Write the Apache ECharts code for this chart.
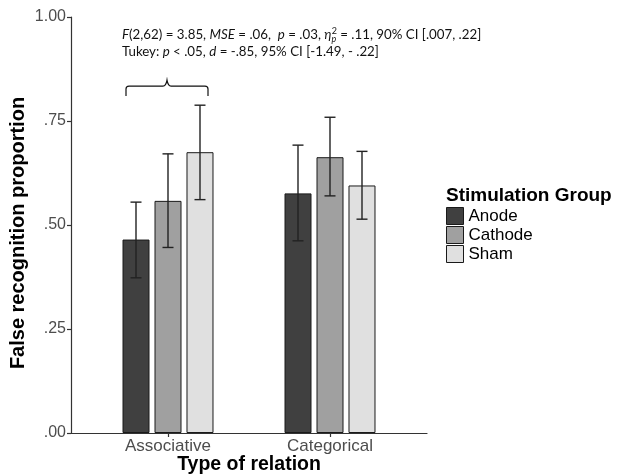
<!DOCTYPE html>
<html><head><meta charset="utf-8">
<script src="https://cdn.jsdelivr.net/npm/echarts@6/dist/echarts.min.js"></script>
<style>html,body{margin:0;padding:0;background:#fff}#c{width:618px;height:474px}</style>
</head><body><div id="c"></div>
<script>
// ---- data ----
var categories = ['Associative', 'Categorical'];
var groups = ['Anode', 'Cathode', 'Sham'];
var meanAnode   = [0.465, 0.576];
var meanCathode = [0.558, 0.663];
var meanSham    = [0.675, 0.595];
var lowAnode    = [0.373, 0.462];
var highAnode   = [0.555, 0.692];
var lowCathode  = [0.446, 0.570];
var highCathode = [0.671, 0.759];
var lowSham     = [0.561, 0.514];
var highSham    = [0.788, 0.677];
var yTicks = [0, 0.25, 0.5, 0.75, 1];
var yTickLabels = ['.00', '.25', '.50', '.75', '1.00'];
var braceAnchor = [['Associative', 0.834]];

// ---- styles ----
var colors = ['#404040', '#a0a0a0', '#e0e0e0'];
var BAR_W = 27, BAR_GAP = 5;
var means = [meanAnode, meanCathode, meanSham];
var lows = [lowAnode, lowCathode, lowSham];
var highs = [highAnode, highCathode, highSham];

var chart = echarts.init(document.getElementById('c'), null, {renderer: 'canvas'});

var series = [];
groups.forEach(function (g, i) {
  series.push({
    name: g, type: 'bar', xAxisIndex: 0, yAxisIndex: 0,
    barWidth: BAR_W, barGap: (BAR_GAP / BAR_W * 100).toFixed(1) + '%',
    data: means[i],
    itemStyle: {color: colors[i], borderColor: '#1a1a1a', borderWidth: 1},
    emphasis: {disabled: true}
  });
});
groups.forEach(function (g, i) {
  var data = categories.map(function (c, k) { return [k, lows[i][k], highs[i][k]]; });
  series.push({
    type: 'custom', xAxisIndex: 0, yAxisIndex: 0, z: 5,
    data: data,
    renderItem: function (params, api) {
      var off = (i - 1) * (BAR_W + BAR_GAP);
      var lo = api.coord([api.value(0), api.value(1)]);
      var hi = api.coord([api.value(0), api.value(2)]);
      var x = lo[0] + off, cap = 5.5;
      var st = {stroke: '#222', lineWidth: 1.4};
      return {type: 'group', children: [
        {type: 'line', shape: {x1: x, y1: lo[1], x2: x, y2: hi[1]}, style: st},
        {type: 'line', shape: {x1: x - cap, y1: lo[1], x2: x + cap, y2: lo[1]}, style: st},
        {type: 'line', shape: {x1: x - cap, y1: hi[1], x2: x + cap, y2: hi[1]}, style: st}
      ]};
    }
  });
});
series.push({
  type: 'custom', xAxisIndex: 0, yAxisIndex: 0, z: 5,
  data: braceAnchor,
  renderItem: function (params, api) {
    var p = api.coord([api.value(0), api.value(1)]);
    var cx = p[0] - 1, cy = p[1], w = 41;
    var d = 'M' + (cx - w) + ' ' + (cy + 10) + ' L' + (cx - w) + ' ' + (cy + 3) +
      ' Q' + (cx - w) + ' ' + cy + ' ' + (cx - w + 3) + ' ' + cy +
      ' L' + (cx - 4) + ' ' + cy + ' Q' + (cx - 1) + ' ' + cy + ' ' + cx + ' ' + (cy - 6) +
      ' Q' + (cx + 1) + ' ' + cy + ' ' + (cx + 4) + ' ' + cy +
      ' L' + (cx + w - 3) + ' ' + cy + ' Q' + (cx + w) + ' ' + cy + ' ' + (cx + w) + ' ' + (cy + 3) +
      ' L' + (cx + w) + ' ' + (cy + 10);
    return {type: 'path', shape: {pathData: d}, style: {stroke: '#111', lineWidth: 1.2, fill: null}};
  }
});

var annFont = 'Lato, "Open Sans", sans-serif';
var AF = 13.3;
var rich = {
  i: {fontStyle: 'italic', fontFamily: annFont, fontSize: AF, fill: '#111'},
  sub: {fontStyle: 'italic', fontFamily: annFont, fontSize: 9, fill: '#111', width: 0.1, padding: [8, 0, 0, 0]},
  sup: {fontFamily: annFont, fontSize: 9, fill: '#111', padding: [0, 0, 7, 0]}
};

chart.setOption({
  animation: false,
  grid: [
    {left: 87, right: 207, top: 17, bottom: 41, outerBoundsMode: 'none', containLabel: false},
    {left: 71, right: 191, top: 17, bottom: 41, outerBoundsMode: 'none', containLabel: false}
  ],
  title: {
    text: 'Stimulation Group', left: 446, top: 186,
    textStyle: {fontFamily: 'Liberation Sans, Arial, sans-serif', fontSize: 19, fontWeight: 'bold', color: '#000'},
    padding: 0
  },
  legend: {
    data: groups, orient: 'vertical', left: 446, top: 207, padding: 0,
    icon: 'rect', itemWidth: 17, itemHeight: 17, itemGap: 1,
    itemStyle: {borderColor: '#1a1a1a', borderWidth: 1},
    textStyle: {fontFamily: 'Liberation Sans, Arial, sans-serif', fontSize: 17, color: '#000', lineHeight: 17}
  },
  xAxis: [
    {type: 'category', gridIndex: 0, data: categories,
     axisLine: {show: false},
     axisTick: {show: true, alignWithLabel: true, length: 4, lineStyle: {color: '#333', width: 1.2}},
     axisLabel: {margin: 5, fontFamily: 'Liberation Sans, Arial, sans-serif', fontSize: 17, color: '#4d4d4d'},
     name: 'Type of relation', nameLocation: 'middle', nameGap: 22, nameMoveOverlap: false,
     nameTextStyle: {fontFamily: 'Liberation Sans, Arial, sans-serif', fontSize: 19.5, fontWeight: 'bold', color: '#000'}},
    {type: 'value', gridIndex: 1, min: 0, max: 1,
     axisLine: {show: true, lineStyle: {color: '#333', width: 1.2}},
     axisTick: {show: false}, axisLabel: {show: false}, splitLine: {show: false}}
  ],
  yAxis: [
    {type: 'value', gridIndex: 0, min: 0, max: 1, show: false},
    {type: 'value', gridIndex: 1, min: 0, max: 1, interval: 0.25,
     axisLine: {show: true, lineStyle: {color: '#333', width: 1.2}},
     axisTick: {show: true, length: 4, lineStyle: {color: '#333', width: 1.2}},
     splitLine: {show: false},
     axisLabel: {margin: 5, fontFamily: 'Liberation Sans, Arial, sans-serif', fontSize: 16, color: '#4d4d4d',
       formatter: function (v) { var k = yTicks.indexOf(v); return k >= 0 ? yTickLabels[k] : ''; }}}
  ],
  graphic: [
    {type: 'text', left: 122, top: 27, style: {
      text: '{i|F}(2,62) = 3.85, {i|MSE} = .06,  {i|p} = .03, {i|η}{sub|p}{sup|2} = .11, 90% CI [.007, .22]',
      font: AF + 'px ' + annFont, fill: '#111', rich: rich}},
    {type: 'text', left: 122, top: 45, style: {
      text: 'Tukey: {i|p} < .05, {i|d} = -.85, 95% CI [-1.49, - .22]',
      font: AF + 'px ' + annFont, fill: '#111', rich: rich}},
    {type: 'text', x: 18, y: 233, rotation: Math.PI / 2, style: {
      text: 'False recognition proportion', font: 'bold 20px "Liberation Sans", Arial, sans-serif',
      fill: '#000', align: 'center', verticalAlign: 'middle'}}
  ],
  series: series
});
</script></body></html>
